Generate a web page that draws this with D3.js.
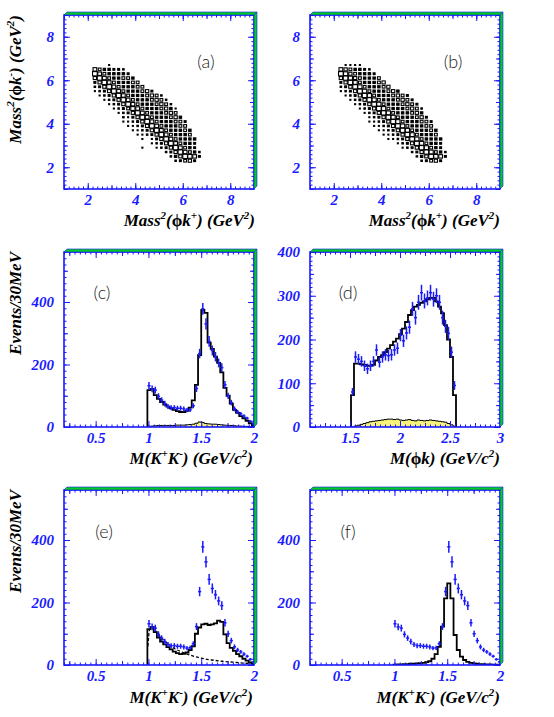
<!DOCTYPE html>
<html>
<head>
<meta charset="utf-8">
<script src="https://cdn.jsdelivr.net/npm/d3@7"></script>
<style>
body { margin: 0; background: #fff; }
svg { display: block; }
.tl { font-family: "Liberation Serif", "Times New Roman", serif; font-weight: bold; font-style: italic; font-size: 15px; fill: #1a1aff; }
.title { font-family: "Liberation Serif", "Times New Roman", serif; font-weight: bold; font-style: italic; font-size: 17px; fill: #000; }
.lab { font-family: Lato, "Open Sans", sans-serif; font-weight: 300; font-size: 18px; fill: #222; }
</style>
</head>
<body>
<svg id="chart"></svg>
<script>
// ---- data ----

// Dalitz plots (a) data, (b) fit: bin centres (GeV^2), box level 0-9 per bin
let dalX = [2.3, 2.5, 2.7, 2.9, 3.1, 3.3, 3.5, 3.7, 3.9, 4.1, 4.3, 4.5, 4.7, 4.9, 5.1, 5.3, 5.5, 5.7, 5.9, 6.1, 6.3, 6.5, 6.7]
let dalY = [6.7, 6.5, 6.3, 6.1, 5.9, 5.7, 5.5, 5.3, 5.1, 4.9, 4.7, 4.5, 4.3, 4.1, 3.9, 3.7, 3.5, 3.3, 3.1, 2.9, 2.7, 2.5, 2.3]
let dalitzA = [
    "00010000000000000000000",
    "75443320000000000000000",
    "97544443000000000000000",
    "69754455400000000000000",
    "36975444550000000000000",
    "23697544455000000000000",
    "12369754445630000000000",
    "01236975444565200000000",
    "00123697544456520000000",
    "00012369754445652000000",
    "00001235875444564100000",
    "00000123697544456500000",
    "00000021369754445640000",
    "00000011236975444553000",
    "00000001123697544455000",
    "00000000112369754445400",
    "00000000011236975444500",
    "00000000001013697544440",
    "00000000000012369754430",
    "00000000001001236975430",
    "00000000000000023697542",
    "00000000000000002469873",
    "00000000000000000235630"
]
let dalitzB = [
    "01111000000000000000000",
    "76544320000000000000000",
    "98654443000000000000000",
    "69865444500000000000000",
    "36985444560000000000000",
    "23698544456000000000000",
    "12369854445640000000000",
    "01236985444565300000000",
    "00123698544456530000000",
    "00012369854445653000000",
    "00001236985444565200000",
    "00000123698544456400000",
    "00000012369854445630000",
    "00000011236985444553000",
    "00000001123698544455000",
    "00000000112369854445400",
    "00000000011236985444500",
    "00000000001123698544440",
    "00000000000012369854430",
    "00000000000001236985430",
    "00000000000000023698542",
    "00000000000000002469873",
    "00000000000000000235630"
]

// M(K+K-) histograms, 30 MeV bins starting at 0.99 GeV
let kkStart = 0.99
let kkWidth = 0.03
let kkData = [132, 122, 118, 98, 86, 75, 66, 62, 62, 60, 60, 58, 54, 55, 68, 123, 235, 378, 330, 274, 245, 225, 205, 190, 135, 100, 78, 58, 48, 42, 35, 28, 18, 10]
let kkErr = [12, 11, 11, 10, 9, 9, 8, 8, 8, 8, 8, 8, 7, 7, 8, 11, 15, 19, 18, 17, 16, 15, 14, 14, 12, 10, 9, 8, 7, 6, 6, 5, 4, 3]
let kkFit = [118, 122, 102, 90, 80, 72, 65, 60, 55, 51, 48, 48, 52, 62, 85, 135, 230, 375, 365, 270, 250, 225, 205, 175, 125, 100, 75, 55, 45, 35, 28, 20, 12, 5]
let kkBkg = [2, 3, 4, 5, 5, 5, 5, 5, 5, 6, 6, 6, 7, 8, 9, 12, 16, 14, 11, 10, 9, 9, 8, 7, 6, 5, 5, 4, 3, 3, 2, 2, 1, 1]
let kkFitE = [115, 122, 105, 88, 75, 66, 57, 50, 43, 38, 35, 36, 40, 48, 60, 100, 120, 130, 132, 128, 130, 133, 142, 138, 98, 70, 55, 45, 35, 28, 20, 14, 8, 3]
let kkF2 = [1, 2, 2, 3, 3, 4, 4, 5, 6, 7, 9, 12, 20, 35, 58, 123, 213, 261, 213, 96, 48, 27, 16, 10, 7, 5, 4, 3, 3, 2, 2, 1, 1, 1]
// dashed component in (e)
let f0X = [0.995, 1.01, 1.03, 1.06, 1.1, 1.15, 1.2, 1.25, 1.3, 1.4, 1.5, 1.6, 1.7, 1.8, 1.9, 2.0]
let f0Y = [60, 112, 122, 112, 95, 78, 64, 52, 44, 31, 22, 16, 12, 9, 6, 4]

// M(phi K) histograms, 30 MeV bins starting at 1.51 GeV
let pkStart = 1.51
let pkWidth = 0.03
let pkData = [80, 160, 155, 150, 140, 133, 140, 150, 176, 148, 160, 165, 163, 165, 176, 180, 210, 197, 215, 228, 270, 250, 285, 307, 288, 295, 307, 292, 300, 285, 250, 230, 214, 171, 95]
let pkErr = [9, 13, 12, 12, 12, 12, 12, 12, 13, 12, 13, 13, 13, 13, 13, 13, 14, 14, 15, 15, 16, 16, 17, 18, 17, 17, 18, 17, 17, 17, 16, 15, 15, 13, 10]
let pkFit = [73, 145, 145, 143, 142, 140, 140, 142, 152, 160, 164, 171, 179, 187, 195, 202, 212, 225, 240, 256, 267, 275, 279, 284, 287, 292, 295, 295, 287, 275, 260, 233, 200, 160, 73]
let pkBkg = [0, 2, 4, 6, 8, 10, 12, 13, 14, 15, 16, 17, 18, 18, 17, 18, 16, 15, 16, 17, 15, 14, 16, 15, 14, 15, 16, 15, 14, 13, 12, 11, 8, 5, 2]

// tick labels
let dalTicks = [2, 4, 6, 8]
let kkXTicks = [0.5, 1, 1.5, 2]
let kkYTicks = [0, 200, 400]
let pkXTicks = [1.5, 2, 2.5, 3]
let pkYTicks = [0, 100, 200, 300, 400]

// ---- drawing ----
let BLUE = '#1a1aff'
let GREEN = '#00cc22'
let width = 554
let height = 717
let cols = [64, 310]
let colW = 190
let rows = [[15, 189], [252, 427], [490, 665]]
let fmt = d3.format('~g')

let svg = d3.select('#chart').attr('width', width).attr('height', height)
let defs = svg.append('defs')

let tickAxis = (g, gen, pos, values, len, pad) => {
    let ax = gen.tickValues(values).tickSizeInner(-len).tickSizeOuter(0)
    if (pad) ax.tickPadding(pad).tickFormat(fmt)
    else ax.tickFormat('')
    let a = g.append('g').attr('transform', pos).call(ax)
    a.attr('font-family', null).attr('font-size', null)
    a.select('.domain').remove()
    a.selectAll('line').attr('stroke', BLUE).attr('stroke-width', 1)
    a.selectAll('text').attr('class', 'tl')
}

// ticks inside the frame on all four sides, labels on bottom and left
let drawAxes = (g, x, y, t) => {
    let [x0, x1] = x.range()
    let [y1, y0] = y.range()
    let sides = [
        [() => d3.axisBottom(x), `translate(0,${y1})`, 'x', 5],
        [() => d3.axisTop(x), `translate(0,${y0})`, 'x', 0],
        [() => d3.axisLeft(y), `translate(${x0},0)`, 'y', 10],
        [() => d3.axisRight(y), `translate(${x1},0)`, 'y', 0]
    ]
    sides.forEach(([gen, pos, k]) => tickAxis(g, gen(), pos, t[k + 'Minor'], 2.5, 0))
    sides.forEach(([gen, pos, k]) => tickAxis(g, gen(), pos, t[k + 'Mid'], 4, 0))
    sides.forEach(([gen, pos, k, pad]) => tickAxis(g, gen(), pos, t[k + 'Major'], 6, pad))
}

// blue frame with the green bevel along top and right
let drawFrame = (g, x0, y0, x1, y1) => {
    let d = 3
    g.append('rect')
        .attr('x', x0).attr('y', y0).attr('width', x1 - x0).attr('height', y1 - y0)
        .attr('fill', 'none').attr('stroke', BLUE).attr('stroke-width', 1.6)
    g.append('polygon')
        .attr('points', [[x0, y0], [x0 + d, y0 - d], [x1 + d, y0 - d], [x1, y0]].join(' '))
        .attr('fill', GREEN).attr('stroke', BLUE).attr('stroke-width', 0.6)
    g.append('polygon')
        .attr('points', [[x1, y0], [x1 + d, y0 - d], [x1 + d, y1 - d], [x1, y1]].join(' '))
        .attr('fill', GREEN).attr('stroke', BLUE).attr('stroke-width', 0.6)
}

let richText = (sel, parts) => {
    let up = false
    parts.forEach(p => {
        let t = sel.append('tspan').text(p[0])
        if (p[1] && !up) { t.attr('dy', -7).attr('font-size', '11px'); up = true }
        else if (p[1]) t.attr('font-size', '11px')
        else if (up) { t.attr('dy', 7); up = false }
        if (p[2]) t.attr('font-style', 'normal')
    })
}

let xTitle = (g, xEnd, yBase, parts) => {
    richText(g.append('text').attr('class', 'title')
        .attr('x', xEnd).attr('y', yBase).attr('text-anchor', 'end'), parts)
}
let yTitle = (g, xBase, yTop, parts) => {
    richText(g.append('text').attr('class', 'title')
        .attr('transform', `translate(${xBase},${yTop}) rotate(-90)`).attr('text-anchor', 'end'), parts)
}

let stepPoints = (start, w, vals) => {
    let pts = [[start, 0]]
    vals.forEach((v, i) => { pts.push([start + w * i, v], [start + w * (i + 1), v]) })
    pts.push([start + w * vals.length, 0])
    return pts
}

let drawHist = (g, x, y, start, w, vals, stroke, fill) => {
    let line = d3.line().x(d => x(d[0])).y(d => y(d[1]))
    g.append('path').attr('d', line(stepPoints(start, w, vals)))
        .attr('fill', fill || 'none').attr('stroke', stroke).attr('stroke-width', fill ? 1 : 1.8)
        .attr('stroke-linejoin', 'miter')
}

let drawPoints = (g, x, y, start, w, vals, errs) => {
    let pts = vals.map((v, i) => ({ c: start + w * (i + 0.5), v: v, e: errs[i] }))
    g.selectAll(null).data(pts).join('line')
        .attr('x1', d => x(d.c)).attr('x2', d => x(d.c))
        .attr('y1', d => y(d.v - d.e)).attr('y2', d => y(d.v + d.e))
        .attr('stroke', BLUE).attr('stroke-width', 1.5)
    g.selectAll(null).data(pts).join('line')
        .attr('x1', d => x(d.c - w / 2)).attr('x2', d => x(d.c + w / 2))
        .attr('y1', d => y(d.v)).attr('y2', d => y(d.v))
        .attr('stroke', BLUE).attr('stroke-width', 1.5)
}

// box plot: box size grows with the bin level, small boxes look solid
let drawBoxes = (g, x, y, grid) => {
    let cells = []
    grid.forEach((row, j) => row.split('').forEach((c, i) => {
        if (+c > 0) cells.push({ X: dalX[i], Y: dalY[j], L: +c })
    }))
    let bw = x(dalX[1]) - x(dalX[0])
    let bh = y(dalY[1]) - y(dalY[0])
    let f = L => 0.12 + 0.86 * L / 9
    g.selectAll(null).data(cells).join('rect')
        .attr('x', d => x(d.X) - bw * f(d.L) / 2)
        .attr('y', d => y(d.Y) - bh * f(d.L) / 2)
        .attr('width', d => bw * f(d.L))
        .attr('height', d => bh * f(d.L))
        .attr('fill', d => d.L < 5 ? '#000' : 'none').attr('stroke', '#000').attr('stroke-width', 1.1)
}

let panel = (col, row, xDom, yDom, id) => {
    let x0 = cols[col], x1 = cols[col] + colW
    let [y0, y1] = rows[row]
    let x = d3.scaleLinear().domain(xDom).range([x0, x1])
    let y = d3.scaleLinear().domain(yDom).range([y1, y0])
    let g = svg.append('g')
    defs.append('clipPath').attr('id', 'clip' + id)
        .append('rect').attr('x', x0).attr('y', y0).attr('width', x1 - x0).attr('height', y1 - y0)
    let plot = g.append('g').attr('clip-path', `url(#clip${id})`)
    return { g, plot, x, y, x0, x1, y0, y1 }
}

let label = (p, text, cx, base) => {
    p.g.append('text').attr('class', 'lab').attr('x', cx).attr('y', base)
        .attr('text-anchor', 'middle').text(text)
}

let dalAxes = {
    xMajor: dalTicks, xMid: d3.range(1, 9.01, 1), xMinor: d3.range(1, 9.01, 0.2),
    yMajor: dalTicks, yMid: d3.range(1, 9.01, 1), yMinor: d3.range(1, 9.01, 0.2)
}
let kkAxes = {
    xMajor: kkXTicks, xMid: [0.25, 0.75, 1.25, 1.75], xMinor: d3.range(0.2, 2.001, 0.05),
    yMajor: kkYTicks, yMid: [100, 300, 500], yMinor: d3.range(0, 561, 20)
}
let pkAxes = {
    xMajor: pkXTicks, xMid: [1.25, 1.75, 2.25, 2.75], xMinor: d3.range(1.1, 3.001, 0.05),
    yMajor: pkYTicks, yMid: [50, 150, 250, 350], yMinor: d3.range(0, 401, 10)
}

let massX = [['Mass'], ['2', 1], ['(', 0], ['ϕ', 0, 1], ['k'], ['+', 1], [') (GeV'], ['2', 1], [')']]
let massY = [['Mass'], ['2', 1], ['(', 0], ['ϕ', 0, 1], ['k'], ['-', 1], [') (GeV'], ['2', 1], [')']]
let kkTitle = [['M(K'], ['+', 1], ['K'], ['-', 1], [') (GeV/c'], ['2', 1], [')']]
let pkTitle = [['M(', 0], ['ϕ', 0, 1], ['k) (GeV/c'], ['2', 1], [')']]
let evTitle = [['Events/30MeV']]

// (a)
let pa = panel(0, 0, [1, 9], [1, 9], 'a')
drawBoxes(pa.plot, pa.x, pa.y, dalitzA)
drawAxes(pa.g, pa.x, pa.y, dalAxes)
drawFrame(pa.g, pa.x0, pa.y0, pa.x1, pa.y1)
label(pa, '(a)', 206, 68)
xTitle(pa.g, 255, 226, massX)
yTitle(pa.g, 21, 15, massY)

// (b)
let pb = panel(1, 0, [1, 9], [1, 9], 'b')
drawBoxes(pb.plot, pb.x, pb.y, dalitzB)
drawAxes(pb.g, pb.x, pb.y, dalAxes)
drawFrame(pb.g, pb.x0, pb.y0, pb.x1, pb.y1)
label(pb, '(b)', 453, 68)
xTitle(pb.g, 500, 226, massX)

// (c)
let pc = panel(0, 1, [0.2, 2], [0, 560], 'c')
drawHist(pc.plot, pc.x, pc.y, kkStart, kkWidth, kkBkg, '#000', '#f7f27a')
drawHist(pc.plot, pc.x, pc.y, kkStart, kkWidth, kkFit, '#000')
drawPoints(pc.plot, pc.x, pc.y, kkStart, kkWidth, kkData, kkErr)
drawAxes(pc.g, pc.x, pc.y, kkAxes)
drawFrame(pc.g, pc.x0, pc.y0, pc.x1, pc.y1)
label(pc, '(c)', 102, 299)
xTitle(pc.g, 253, 464, kkTitle)
yTitle(pc.g, 21, 252, evTitle)

// (d)
let pd = panel(1, 1, [1.1, 3], [0, 400], 'd')
drawHist(pd.plot, pd.x, pd.y, pkStart, pkWidth, pkBkg, '#000', '#f7f27a')
drawHist(pd.plot, pd.x, pd.y, pkStart, pkWidth, pkFit, '#000')
drawPoints(pd.plot, pd.x, pd.y, pkStart, pkWidth, pkData, pkErr)
drawAxes(pd.g, pd.x, pd.y, pkAxes)
drawFrame(pd.g, pd.x0, pd.y0, pd.x1, pd.y1)
label(pd, '(d)', 348, 299)
xTitle(pd.g, 500, 464, pkTitle)

// (e)
let pe = panel(0, 2, [0.2, 2], [0, 560], 'e')
drawHist(pe.plot, pe.x, pe.y, kkStart, kkWidth, kkFitE, '#000')
pe.plot.append('path')
    .attr('d', d3.line().curve(d3.curveMonotoneX).x((d, i) => pe.x(f0X[i])).y(d => pe.y(d))(f0Y))
    .attr('fill', 'none').attr('stroke', '#000').attr('stroke-width', 1.3).attr('stroke-dasharray', '3,2')
drawPoints(pe.plot, pe.x, pe.y, kkStart, kkWidth, kkData, kkErr)
drawAxes(pe.g, pe.x, pe.y, kkAxes)
drawFrame(pe.g, pe.x0, pe.y0, pe.x1, pe.y1)
label(pe, '(e)', 104, 538)
xTitle(pe.g, 253, 703, kkTitle)
yTitle(pe.g, 21, 490, evTitle)

// (f)
let pf = panel(1, 2, [0.2, 2], [0, 560], 'f')
drawHist(pf.plot, pf.x, pf.y, kkStart, kkWidth, kkF2, '#000')
drawPoints(pf.plot, pf.x, pf.y, kkStart, kkWidth, kkData, kkErr)
drawAxes(pf.g, pf.x, pf.y, kkAxes)
drawFrame(pf.g, pf.x0, pf.y0, pf.x1, pf.y1)
label(pf, '(f)', 348, 538)
xTitle(pf.g, 500, 703, kkTitle)
</script>
</body>
</html>
